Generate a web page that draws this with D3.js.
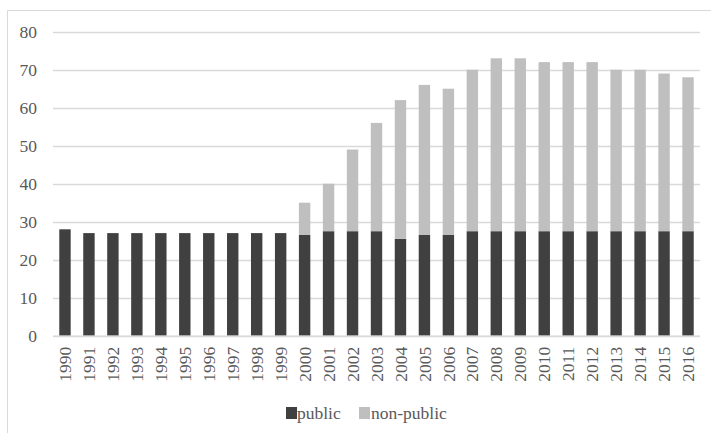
<!DOCTYPE html>
<html>
<head>
<meta charset="utf-8">
<script src="https://cdn.jsdelivr.net/npm/d3@7"></script>
<style>
  html, body { margin: 0; padding: 0; background: #fff; }
  svg { display: block; }
</style>
</head>
<body>
<svg id="chart" width="711" height="433" font-family="Liberation Serif" style="font-family:'Liberation Serif'"></svg>
<script>
const years = ["1990","1991","1992","1993","1994","1995","1996","1997","1998","1999","2000","2001","2002","2003","2004","2005","2006","2007","2008","2009","2010","2011","2012","2013","2014","2015","2016"];
const publicVals = [28,27,27,27,27,27,27,27,27,27,26.5,27.5,27.5,27.5,25.5,26.5,26.5,27.5,27.5,27.5,27.5,27.5,27.5,27.5,27.5,27.5,27.5];
const nonPublicVals = [0,0,0,0,0,0,0,0,0,0,8.5,12.5,21.5,28.5,36.5,39.5,38.5,42.5,45.5,45.5,44.5,44.5,44.5,42.5,42.5,41.5,40.5];
const yTicks = [0,10,20,30,40,50,60,70,80];
const seriesNames = ["public","non-public"];
const colors = ["#404040","#bfbfbf"];

(function () {
const svg = d3.select("#chart");
const textColor = "#595959";
const fam = '"Liberation Serif"';
const fs = "17.5px";

svg.append("path")
  .attr("d", "M7.5,433 L7.5,10.5 L711,10.5")
  .attr("fill","none").attr("stroke","#d9d9d9").attr("stroke-width",1);

const pLeft = 53, pRight = 700, pTop = 31.7, pBottom = 335.7;
const x = d3.scaleBand().domain(years).range([pLeft, pRight]).paddingInner(0.524).paddingOuter(0.262);
const y = d3.scaleLinear().domain([0,80]).range([pBottom, pTop]);

svg.append("g").selectAll("line").data(yTicks).join("line")
  .attr("x1", pLeft).attr("x2", pRight)
  .attr("y1", d => Math.round(y(d)) + 0.5).attr("y2", d => Math.round(y(d)) + 0.5)
  .attr("stroke", "#d9d9d9").attr("stroke-width", 1.3);

const yAxis = d3.axisLeft(y).tickValues(yTicks).tickSize(0).tickPadding(0);
const gy = svg.append("g").attr("transform", `translate(37,0)`).call(yAxis);
gy.attr("font-family", "Liberation Serif").attr("font-size", 17.5);
gy.select(".domain").remove();
gy.selectAll("text").style("font-family", fam).style("font-size", fs).attr("fill", textColor).attr("dy","0.35em");

const rows = years.map((yr,i) => ({year: yr, public: publicVals[i], "non-public": nonPublicVals[i]}));
const stack = d3.stack().keys(seriesNames)(rows);

svg.append("g").selectAll("g").data(stack).join("g")
  .attr("fill", (d,i) => colors[i])
  .selectAll("rect").data(d => d).join("rect")
  .attr("x", d => x(d.data.year))
  .attr("width", x.bandwidth())
  .attr("y", d => y(d[1]))
  .attr("height", d => Math.max(0, y(d[0]) - y(d[1])));

svg.append("line").attr("x1", pLeft).attr("x2", pRight)
  .attr("y1", pBottom + 0.5).attr("y2", pBottom + 0.5)
  .attr("stroke", "#d9d9d9").attr("stroke-width", 1.3);

const xAxis = d3.axisBottom(x).tickSize(0).tickPadding(0);
const gx = svg.append("g").attr("transform", `translate(0,${pBottom})`).call(xAxis);
gx.attr("font-family", "Liberation Serif").attr("font-size", 17.5);
gx.select(".domain").remove();
gx.selectAll("text")
  .style("font-family", fam).style("font-size", fs).attr("fill", textColor)
  .attr("text-anchor", "end")
  .attr("transform", "translate(0,11) rotate(-90)")
  .attr("x", 0).attr("y", 0).attr("dy", "0.35em");

const legendItems = [{sx:286, tx:297},{sx:359, tx:371}];
const lg = svg.append("g").attr("font-family", "Liberation Serif").attr("font-size", 17.5);
legendItems.forEach((it,i) => {
  lg.append("rect").attr("x", it.sx).attr("y", 407).attr("width", 11).attr("height", 12).attr("fill", colors[i]);
  lg.append("text").attr("x", it.tx).attr("y", 418.5).text(seriesNames[i])
    .style("font-family", fam).style("font-size", fs).attr("fill", textColor);
});

svg.selectAll("text").each(function(){ this.getComputedTextLength(); });
})();
</script>
</body>
</html>
